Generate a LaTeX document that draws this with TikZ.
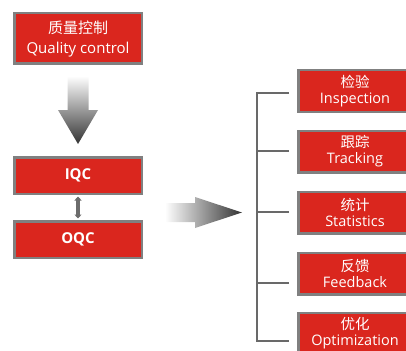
\documentclass[tikz,border=0pt]{standalone}
\usepackage{fontspec}
\setmainfont{Open Sans}
\newfontfamily\cjk{Noto Sans CJK SC}
\usetikzlibrary{calc}
\usetikzlibrary{arrows.meta}

\definecolor{qcRed}{RGB}{218,38,30}
\definecolor{qcGray}{RGB}{128,128,128}
\definecolor{lineGray}{RGB}{105,105,105}

\tikzset{
  redbox/.style={rectangle, draw=qcGray, fill=qcRed, line width=2.5pt, text=white, align=center, inner sep=0pt},
  leftbox/.style={redbox, minimum width=127.5pt},
  rightbox/.style={redbox, minimum width=113.5pt, minimum height=41.5pt, font=\fontsize{14.5}{16}\selectfont},
  bracket/.style={draw=lineGray, line width=1.8pt}
}

\begin{document}
\begin{tikzpicture}[x=1pt, y=-1pt]
    \useasboundingbox (0,0) rectangle (406,350);
    \clip (0,0) rectangle (406,350);

    % the red boxes on the left
    \node[leftbox, minimum height=50.5pt, font=\fontsize{15}{20}\selectfont] (qc) at (78,38.5) {{\cjk 质量控制}\\Quality control};
    \node[leftbox, minimum height=36.5pt, font=\fontsize{15}{18}\selectfont\bfseries] (iqc) at (78,175.5) {IQC};
    \node[leftbox, minimum height=36.5pt, font=\fontsize{15}{18}\selectfont\bfseries] (oqc) at (78,239.5) {OQC};

    % the red boxes on the right
    \node[rightbox] (inspect) at (355,91) {{\cjk 检验}\\Inspection};
    \node[rightbox] (track) at (355,151.5) {{\cjk 跟踪}\\Tracking};
    \node[rightbox] (stats) at (355,212.5) {{\cjk 统计}\\Statistics};
    \node[rightbox] (feed) at (355,273.5) {{\cjk 反馈}\\Feedback};
    \node[rightbox] (optim) at (355,333.5) {{\cjk 优化}\\Optimization};

    % the shaded arrows
    \coordinate (downTop) at ($(qc.south)+(0,11)$);
    \coordinate (downTip) at ($(iqc.north)+(0,-12)$);
    \shade[top color=white, bottom color=black!80] let \p1=(downTop), \p2=(downTip) in
      (\x1-10.5pt,\y1) -- (\x1+10.5pt,\y1) -- (\x1+10.5pt,\y2+34pt) -- (\x1+20pt,\y2+34pt)
      -- (\p2) -- (\x1-20pt,\y2+34pt) -- (\x1-10.5pt,\y2+34pt) -- cycle;
    \draw[{Triangle[width=7pt,length=4pt]}-{Triangle[width=7pt,length=4pt]}, line width=3.5pt, draw=gray!85!black]
      ([yshift=-1.5pt]iqc.south) -- ([yshift=1.5pt]oqc.north);
    \shade[left color=white, right color=black!80]
      (165,203) -- (195,203) -- (195,197) -- (242,212.5) -- (195,228) -- (195,222) -- (165,222) -- cycle;

    % the bracket
    \coordinate (trunkTop) at (257,93);
    \coordinate (trunkBot) at (257,341);
    \draw[bracket] ([xshift=-8pt,yshift=-2pt]inspect.west) -- (trunkTop) -- (trunkBot) -- ([xshift=-8pt,yshift=-7.5pt]optim.west);
    \foreach \b/\dy in {track/0.5, stats/0.5, feed/-9.5}
      \draw[bracket] ([xshift=-8pt,yshift=\dy pt]\b.west) -- ++(-32,0);
\end{tikzpicture}
\end{document}
